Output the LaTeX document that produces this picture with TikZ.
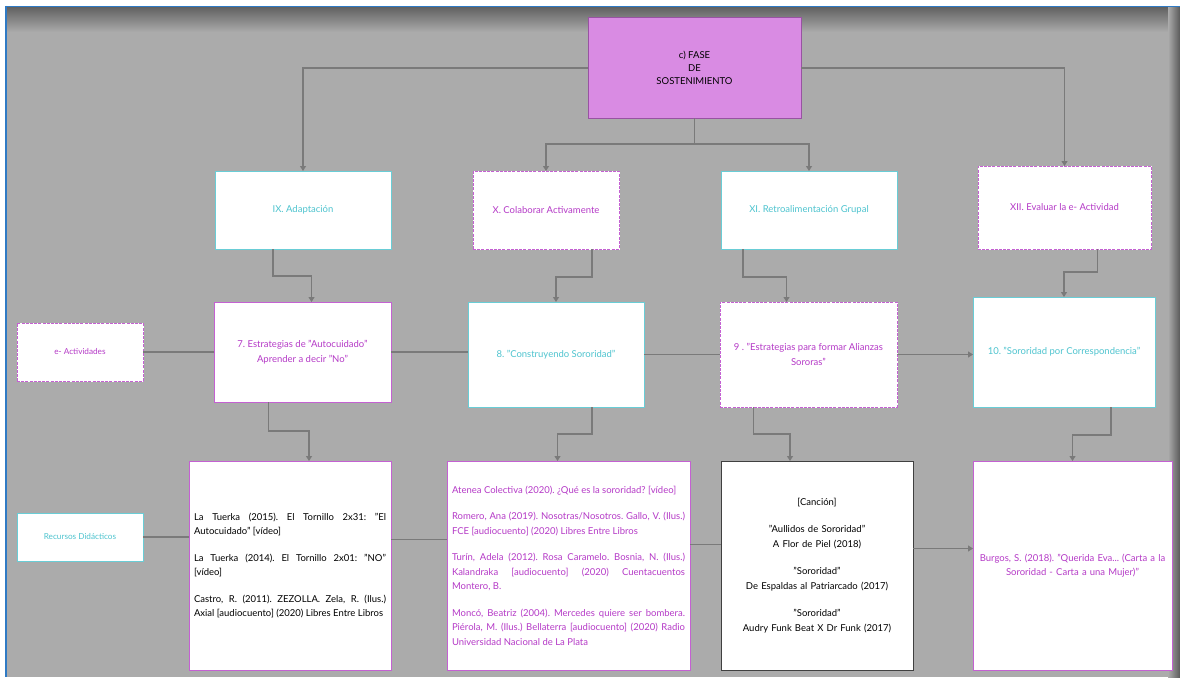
\documentclass[tikz,border=0pt]{standalone}
\usepackage{fontspec}
\setmainfont{Lato}
\usetikzlibrary{arrows.meta}
\setlength{\parindent}{0pt}
\frenchspacing
\hyphenpenalty=10000
\exhyphenpenalty=10000
\definecolor{mpurple}{HTML}{B53AC7}
\definecolor{mcyan}{HTML}{4EC4CF}
\definecolor{mviolet}{HTML}{D98BE3}
\definecolor{mgray}{HTML}{ABABAB}
\definecolor{mline}{HTML}{7A7A7A}
\definecolor{mblue}{HTML}{2F7AC4}
\tikzset{box/.style = {draw, fill=white, anchor=north west, outer sep=0, inner sep=3pt,
                       line width=1pt, font=\fontsize{9.5}{14.5}\selectfont, align=center}}
\tikzset{cyanbox/.style = {box, draw=mcyan!85!white, text=mcyan}}
\tikzset{purpbox/.style = {box, draw=mpurple!80!white, text=mpurple}}
\tikzset{dashbox/.style = {purpbox, preaction={draw=white, solid}, dash pattern=on 3pt off 1.2pt, line width=1pt}}
\tikzset{refbox/.style = {box, inner xsep=5pt, align=justify}}
\tikzset{conn/.style = {draw=mline, line width=1.1pt, -{Triangle[width=6pt,length=5pt]}}}
\tikzset{link/.style = {draw=mline, line width=1.1pt}}

\begin{document}
\begin{tikzpicture}[x=1pt, y=-1pt]
  \useasboundingbox (0,0) rectangle (1180,677);
  \fill [white] (0,0) rectangle (1180,677);
  \fill [mgray] (5,6) rectangle (1180,677);
  \shade [top color=black!62, bottom color=mgray] (5,7) rectangle (1180,32);
  \shade [left color=mgray, right color=black!65] (1168,8) rectangle (1180,677);
  \draw [mblue, line width=1.6pt] (5,6.5) -- (1180,6.5);
  \draw [mblue, line width=1.6pt] (5.8,6) -- (5.8,677);

  \node [box, fill=mviolet, draw=mpurple!70!black!80, minimum width=213pt, minimum height=100pt,
         font=\fontsize{9.5}{13}\selectfont] (top) at (588,18) {c) FASE\\DE\\SOSTENIMIENTO};

  \node [cyanbox, minimum width=176pt, minimum height=78pt] (ix) at (215,171) {IX. Adaptación};
  \node [dashbox, minimum width=146pt, minimum height=78pt] (x) at (473,171) {X. Colaborar Activamente};
  \node [cyanbox, minimum width=176pt, minimum height=78pt] (xi) at (721,171) {XI. Retroalimentación Grupal};
  \node [dashbox, minimum width=173pt, minimum height=83pt] (xii) at (978,166) {XII. Evaluar la e- Actividad};

  \node [dashbox, minimum width=126pt, minimum height=58pt, font=\fontsize{8.2}{12}\selectfont] (eact) at (17,323) {e- Actividades};
  \node [purpbox, minimum width=177pt, minimum height=100pt] (a7) at (214,302)
        {7. Estrategias de "Autocuidado"\\Aprender a decir "No"};
  \node [cyanbox, minimum width=176pt, minimum height=105pt] (a8) at (468,302) {8. "Construyendo Sororidad"};
  \node [dashbox, minimum width=177pt, minimum height=105pt] (a9) at (720,302)
        {9 . "Estrategias para formar Alianzas\\Sororas"};
  \node [cyanbox, minimum width=182pt, minimum height=110pt] (a10) at (973,297) {10. "Sororidad por Correspondencia"};

  \node [cyanbox, minimum width=126pt, minimum height=48pt, font=\fontsize{8.2}{12}\selectfont] (rec) at (17,513) {Recursos Didácticos};
  \node [refbox, draw=mpurple!80!white, text width=192pt, minimum height=209pt] (r7) at (189,461)
        {La Tuerka (2015). El Tornillo 2x31: "El Autocuidado" [vídeo]\par\vspace{12pt}
         La Tuerka (2014). El Tornillo 2x01: "NO"\linebreak{}[vídeo]\par\vspace{12pt}
         Castro, R. (2011). ZEZOLLA. Zela, R. (Ilus.)\linebreak{} Axial [audiocuento] (2020) Libres Entre Libros};
  \node [refbox, draw=mpurple!80!white, text=mpurple, text width=233pt, minimum height=209pt] (r8) at (447,461)
        {Atenea Colectiva (2020). ¿Qué es la sororidad? [vídeo]\par\vspace{12pt}
         Romero, Ana (2019). Nosotras/Nosotros. Gallo, V. (Ilus.) FCE [audiocuento] (2020) Libres Entre Libros\par\vspace{12pt}
         Turín, Adela (2012). Rosa Caramelo. Bosnia, N. (Ilus.) Kalandraka [audiocuento] (2020) Cuentacuentos Montero, B.\par\vspace{12pt}
         Moncó, Beatriz (2004). Mercedes quiere ser bombera. Piérola, M. (Ilus.) Bellaterra [audiocuento] (2020) Radio Universidad Nacional de La Plata};
  \node [box, draw=black!75, text width=186pt, minimum height=209pt] (r9) at (721,461)
        {[Canción]\\[13pt]
         "Aullidos de Sororidad"\\A Flor de Piel (2018)\\[13pt]
         "Sororidad"\\De Espaldas al Patriarcado (2017)\\[13pt]
         "Sororidad"\\Audry Funk Beat X Dr Funk (2017)};
  \node [purpbox, text width=193pt, minimum height=209pt] (r10) at (973,461)
        {Burgos, S. (2018). "Querida Eva... (Carta a la\\Sororidad - Carta a una Mujer)"};

  \draw [conn] (top.west) -| (ix.north);
  \draw [conn] (top.east) -| (xii.north);
  \draw [link] (top.south) -- ++(0,26) coordinate (split);
  \draw [conn] (split) -| (x.north);
  \draw [conn] (split) -| (xi.north);

  \draw [conn] ([xshift=-30pt]ix.south) -- ++(0,27) -| ([xshift=9pt]a7.north);
  \draw [conn] ([xshift=46pt]x.south) -- ++(0,28) -| (a8.north);
  \draw [conn] ([xshift=-66pt]xi.south) -- ++(0,28) -| ([xshift=-22pt]a9.north);
  \draw [conn] ([xshift=33pt]xii.south) -- ++(0,23) -| (a10.north);

  \draw [link] (eact.east) -- (a7.west);
  \draw [link] (a7.east) -- (a7.east -| a8.west);
  \draw [link] (a8.east) -- (a9.west);
  \draw [conn] (a9.east) -- (a9.east -| a10.west);

  \draw [conn] ([xshift=-34pt]a7.south) -- ++(0,29) -| ([xshift=19pt]r7.north);
  \draw [conn] ([xshift=36pt]a8.south) -- ++(0,27) -| ([xshift=-11pt]r8.north);
  \draw [conn] ([xshift=-55pt]a9.south) -- ++(0,27) -| ([xshift=-27pt]r9.north);
  \draw [conn] ([xshift=47pt]a10.south) -- ++(0,28) -| (r10.north);

  \draw [link] (rec.east) -- (rec.east -| r7.west);
  \draw [link] ([yshift=26pt]r7.east) -- ([yshift=26pt]r7.east -| r8.west);
  \draw [link] ([yshift=21pt]r8.east) -- ([yshift=21pt]r8.east -| r9.west);
  \draw [conn] ([yshift=17pt]r9.east) -- ([yshift=17pt]r9.east -| r10.west);
\end{tikzpicture}
\end{document}
